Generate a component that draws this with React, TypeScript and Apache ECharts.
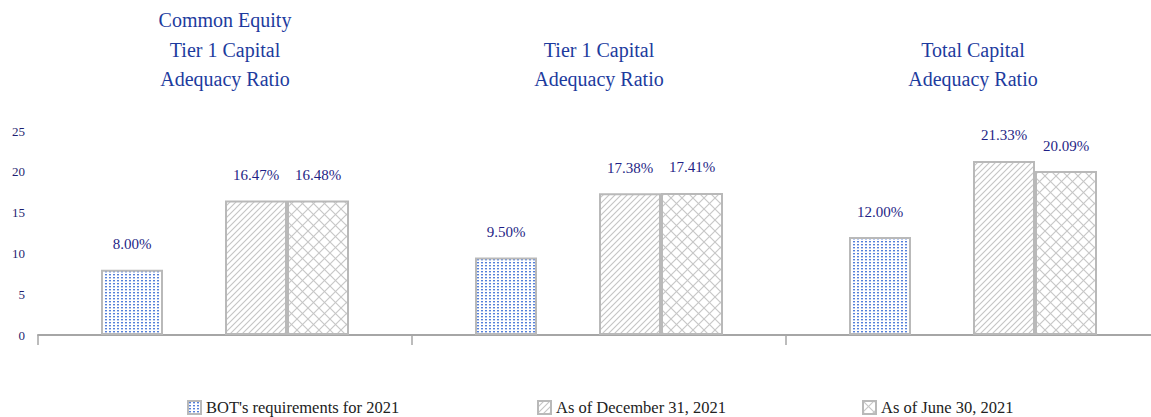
import React, { useEffect, useRef } from "react";
import * as echarts from "echarts";

const categories = [
  "Common Equity\nTier 1 Capital\nAdequacy Ratio",
  "Tier 1 Capital\nAdequacy Ratio",
  "Total Capital\nAdequacy Ratio",
];
const seriesNames = [
  "BOT's requirements for 2021",
  "As of December 31, 2021",
  "As of June 30, 2021",
];
const botValues = [8.0, 9.5, 12.0];
const dec2021Values = [16.47, 17.38, 21.33];
const jun2021Values = [16.48, 17.41, 20.09];
const yTicks = [0, 5, 10, 15, 20, 25];

function svgUrl(w: number, h: number, body: string) {
  const s = `<svg xmlns='http://www.w3.org/2000/svg' width='${w}' height='${h}'>${body}</svg>`;
  return "data:image/svg+xml;charset=utf-8," + encodeURIComponent(s);
}

const dotPattern = {
  image: svgUrl(
    4,
    3,
    "<rect width='4' height='3' fill='#ffffff'/><rect x='1' y='1' width='2' height='1.4' fill='#5580da'/>"
  ),
  imageWidth: 4,
  imageHeight: 3,
  repeat: "repeat",
};
const diagPattern = {
  image: svgUrl(
    6,
    6,
    "<rect width='6' height='6' fill='#ffffff'/><g stroke='#c4c4c4' stroke-width='1.1'><line x1='0' y1='6' x2='6' y2='0'/><line x1='-1' y1='1' x2='1' y2='-1'/><line x1='5' y1='7' x2='7' y2='5'/></g>"
  ),
  imageWidth: 6,
  imageHeight: 6,
  repeat: "repeat",
};
const crossPattern = {
  image: svgUrl(
    11,
    11,
    "<rect width='11' height='11' fill='#ffffff'/><g stroke='#c6c6c6' stroke-width='1.1'><line x1='0' y1='0' x2='11' y2='11'/><line x1='0' y1='11' x2='11' y2='0'/></g>"
  ),
  imageWidth: 11,
  imageHeight: 11,
  repeat: "repeat",
};

const labelStyle = {
  show: true,
  position: "top",
  distance: 18,
  color: "#1f1f86",
  fontFamily: "Liberation Serif",
  fontSize: 15,
  formatter: (p: any) => p.value.toFixed(2) + "%",
};

const borderStyle = { borderColor: "#b9b9b9", borderWidth: 2 };

const legendLefts = [187, 537, 862];

export default function App() {
  const ref = useRef<HTMLDivElement>(null);
  useEffect(() => {
    if (!ref.current) return;
    const chart = echarts.init(ref.current, null, { renderer: "svg" });
    chart.setOption({
      animation: false,
      backgroundColor: "#ffffff",
      textStyle: { fontFamily: "Liberation Serif" },
      grid: {
        left: 38,
        width: 1122,
        top: 131,
        bottom: 82,
        containLabel: false,
        outerBoundsMode: "none",
      },
      legend: seriesNames.map((n, i) => ({
        data: [n],
        left: legendLefts[i],
        top: 399,
        padding: 0,
        itemWidth: 13,
        itemHeight: 13,
        itemGap: 6,
        icon: "rect",
        textStyle: { fontFamily: "Liberation Serif", fontSize: 16.5, color: "#222222" },
      })),
      xAxis: [
        {
          type: "category",
          data: categories,
          position: "bottom",
          axisLine: { show: true, lineStyle: { color: "#a6a6a6", width: 2 } },
          axisTick: { show: true, length: 10, lineStyle: { color: "#a6a6a6", width: 1.5 } },
          axisLabel: { show: false },
        },
        {
          type: "category",
          data: categories,
          position: "top",
          axisLine: { show: false },
          axisTick: { show: false },
          axisLabel: {
            show: true,
            margin: 37,
            color: "#1d3b9e",
            fontFamily: "Liberation Serif",
            fontSize: 20,
            lineHeight: 29.5,
            align: "center",
          },
        },
      ],
      yAxis: {
        type: "value",
        min: yTicks[0],
        max: yTicks[yTicks.length - 1],
        interval: 5,
        axisLine: { show: false },
        axisTick: { show: false },
        splitLine: { show: false },
        axisLabel: {
          margin: 13,
          color: "#1f1f70",
          fontFamily: "Liberation Serif",
          fontSize: 13,
        },
      },
      series: [
        {
          name: seriesNames[0],
          type: "bar",
          barWidth: 62,
          barGap: "0%",
          data: botValues,
          itemStyle: { color: dotPattern, ...borderStyle },
          label: labelStyle,
        },
        {
          name: "",
          type: "bar",
          barWidth: 62,
          barGap: "0%",
          data: [null, null, null],
          itemStyle: { color: "transparent" },
        },
        {
          name: seriesNames[1],
          type: "bar",
          barWidth: 62,
          barGap: "0%",
          data: dec2021Values,
          itemStyle: { color: diagPattern, ...borderStyle },
          label: labelStyle,
        },
        {
          name: seriesNames[2],
          type: "bar",
          barWidth: 62,
          barGap: "0%",
          data: jun2021Values,
          itemStyle: { color: crossPattern, ...borderStyle },
          label: labelStyle,
        },
      ],
    });
    return () => chart.dispose();
  }, []);
  return (
    <div
      ref={ref}
      style={{ position: "absolute", left: 0, top: 0, width: 1151, height: 417 }}
    />
  );
}
